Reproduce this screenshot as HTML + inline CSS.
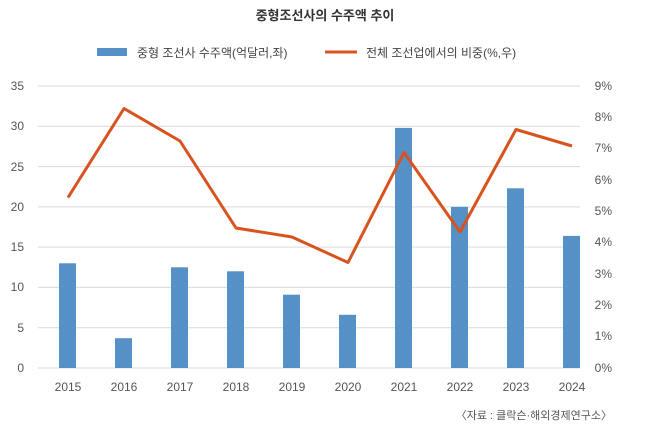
<!DOCTYPE html>
<html><head><meta charset="utf-8"><style>
body{margin:0;background:#fff;}
text{font-family:"Liberation Sans","Noto Sans CJK KR",sans-serif;}
</style></head><body>
<svg width="650" height="441" viewBox="0 0 650 441" xmlns="http://www.w3.org/2000/svg">
<rect width="650" height="441" fill="#fff"/>
<text x="325" y="20" text-anchor="middle" font-size="13" font-weight="bold" fill="#333">중형조선사의 수주액 추이</text>
<rect x="97" y="48" width="30" height="8" fill="#5590c6"/>
<text x="137" y="57" font-size="12" fill="#444">중형 조선사 수주액(억달러,좌)</text>
<line x1="325" y1="52" x2="357" y2="52" stroke="#d9531e" stroke-width="3"/>
<text x="366" y="57" font-size="12" fill="#444">전체 조선업에서의 비중(%,우)</text>
<g stroke="#d9d9d9" stroke-width="1">
<line x1="38" x2="580" y1="86" y2="86"/><line x1="38" x2="580" y1="126.3" y2="126.3"/>
<line x1="38" x2="580" y1="166.6" y2="166.6"/><line x1="38" x2="580" y1="206.9" y2="206.9"/>
<line x1="38" x2="580" y1="247.1" y2="247.1"/><line x1="38" x2="580" y1="287.4" y2="287.4"/>
<line x1="38" x2="580" y1="327.7" y2="327.7"/><line x1="38" x2="580" y1="368" y2="368"/>
</g>
<g font-size="12" fill="#555" text-anchor="end">
<text x="24" y="90">35</text><text x="24" y="130">30</text><text x="24" y="171">25</text><text x="24" y="211">20</text>
<text x="24" y="251">15</text><text x="24" y="291">10</text><text x="24" y="332">5</text><text x="24" y="372">0</text>
</g>
<g font-size="12" fill="#555" text-anchor="end">
<text x="612" y="90">9%</text><text x="612" y="121">8%</text><text x="612" y="152">7%</text><text x="612" y="184">6%</text>
<text x="612" y="215">5%</text><text x="612" y="246">4%</text><text x="612" y="278">3%</text><text x="612" y="309">2%</text>
<text x="612" y="340">1%</text><text x="612" y="372">0%</text>
</g>
<g fill="#5590c6">
<rect x="59" y="263.3" width="17" height="104.7"/>
<rect x="115" y="338.2" width="17" height="29.8"/>
<rect x="171" y="267.3" width="17" height="100.7"/>
<rect x="227" y="271.3" width="17" height="96.7"/>
<rect x="283" y="294.7" width="17" height="73.3"/>
<rect x="339" y="314.8" width="17" height="53.2"/>
<rect x="395" y="127.9" width="17" height="240.1"/>
<rect x="451" y="206.9" width="17" height="161.1"/>
<rect x="507" y="188.3" width="17" height="179.7"/>
<rect x="563" y="235.9" width="17" height="132.1"/>
</g>
<polyline fill="none" stroke="#d9531e" stroke-width="3" stroke-linejoin="round"
points="68,197.5 124,108.5 180,141 236,228 292,237 348,262.5 404,152.5 460,232 516,129.5 572,146"/>
<g font-size="12" fill="#555" text-anchor="middle">
<text x="68" y="391">2015</text><text x="124" y="391">2016</text><text x="180" y="391">2017</text>
<text x="236" y="391">2018</text><text x="292" y="391">2019</text><text x="348" y="391">2020</text>
<text x="404" y="391">2021</text><text x="460" y="391">2022</text><text x="516" y="391">2023</text>
<text x="572" y="391">2024</text>
</g>
<text x="612" y="419" text-anchor="end" font-size="11" fill="#555">〈자료 : 클락슨·해외경제연구소〉</text>
</svg>
</body></html>
